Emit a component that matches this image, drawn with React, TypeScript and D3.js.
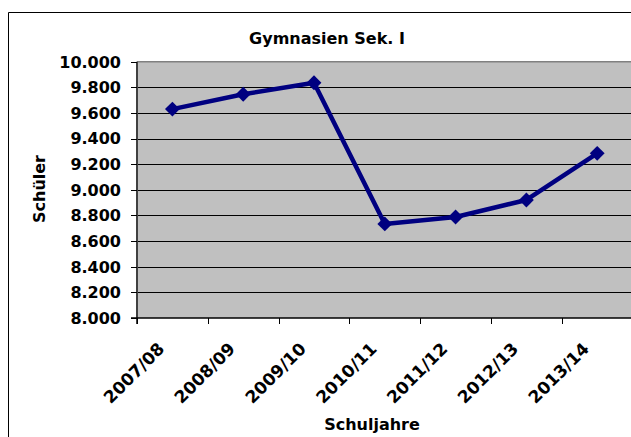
import React, { useRef, useEffect } from "react";
import * as d3 from "d3";

const schuljahre = ["2007/08", "2008/09", "2009/10", "2010/11", "2011/12", "2012/13", "2013/14"];
const schueler = [9630, 9746, 9836, 8734, 8788, 8921, 9285];
const yTicks = [8000, 8200, 8400, 8600, 8800, 9000, 9200, 9400, 9600, 9800, 10000];

const titel = "Gymnasien Sek. I";
const xTitel = "Schuljahre";
const yTitel = "Schüler";

const width = 631;
const height = 437;
const font = "'DejaVu Sans', sans-serif";

const de = d3.formatLocale({ decimal: ",", thousands: ".", grouping: [3], currency: ["", " €"] });
const fmt = de.format(",.0f");

const App = () => {
  const ref = useRef(null);

  useEffect(() => {
    const margin = { top: 61.7, left: 137, bottom: 318, right: 632.6 };

    const svg = d3.select(ref.current);
    svg.selectAll("*").remove();

    const x = d3.scaleBand().domain(schuljahre).range([margin.left, margin.right]).padding(0);
    const y = d3.scaleLinear().domain([8000, 10000]).range([margin.bottom, margin.top]);

    // chart frame: only left and top edges are inside the picture
    svg.append("path")
      .attr("d", `M8.5,${height}V12.5H${width}`)
      .attr("fill", "none").attr("stroke", "black").attr("stroke-width", 1);

    // plot area
    svg.append("rect")
      .attr("x", margin.left).attr("y", margin.top)
      .attr("width", width - margin.left).attr("height", margin.bottom - margin.top)
      .attr("fill", "#c0c0c0");
    svg.append("line")
      .attr("x1", margin.left).attr("x2", width)
      .attr("y1", margin.top).attr("y2", margin.top)
      .attr("stroke", "#808080").attr("stroke-width", 1.5);

    // gridlines
    svg.append("g")
      .selectAll("line")
      .data(yTicks.filter((d) => d > 8000 && d < 10000))
      .join("line")
      .attr("x1", margin.left).attr("x2", width)
      .attr("y1", (d) => Math.round(y(d)) + 0.5).attr("y2", (d) => Math.round(y(d)) + 0.5)
      .attr("stroke", "black").attr("stroke-width", 1);

    // y axis
    const yAxis = svg.append("g");
    yAxis.append("line")
      .attr("x1", margin.left).attr("x2", margin.left)
      .attr("y1", margin.top).attr("y2", margin.bottom + 6)
      .attr("stroke", "#404040").attr("stroke-width", 2);
    yAxis.selectAll("line.tick")
      .data(yTicks)
      .join("line")
      .attr("class", "tick")
      .attr("x1", margin.left - 6).attr("x2", margin.left)
      .attr("y1", (d) => Math.round(y(d)) + 0.5).attr("y2", (d) => Math.round(y(d)) + 0.5)
      .attr("stroke", "black");
    yAxis.selectAll("text")
      .data(yTicks)
      .join("text")
      .attr("x", 121)
      .attr("y", (d) => y(d) + 5.8)
      .attr("text-anchor", "end")
      .attr("font-family", font).attr("font-weight", "bold").attr("font-size", 16)
      .text((d) => fmt(d));

    // x axis
    const xAxis = svg.append("g");
    xAxis.append("line")
      .attr("x1", margin.left - 6).attr("x2", width)
      .attr("y1", margin.bottom).attr("y2", margin.bottom)
      .attr("stroke", "black").attr("stroke-width", 1.5);
    xAxis.selectAll("line.tick")
      .data(schuljahre)
      .join("line")
      .attr("class", "tick")
      .attr("x1", (d) => Math.round(x(d)) + 0.5).attr("x2", (d) => Math.round(x(d)) + 0.5)
      .attr("y1", margin.bottom).attr("y2", margin.bottom + 6)
      .attr("stroke", "black");
    xAxis.selectAll("text")
      .data(schuljahre)
      .join("text")
      .attr("transform", (d) => `translate(${x(d) + x.bandwidth() / 2 - 7},${margin.bottom + 32}) rotate(-45)`)
      .attr("text-anchor", "end")
      .attr("font-family", font).attr("font-weight", "bold").attr("font-size", 17)
      .text((d) => d);

    // line + markers
    const line = d3.line()
      .x((d, i) => x(schuljahre[i]) + x.bandwidth() / 2)
      .y((d) => y(d));

    svg.append("path")
      .datum(schueler)
      .attr("fill", "none")
      .attr("stroke", "#000080")
      .attr("stroke-width", 4.5)
      .attr("stroke-linejoin", "round")
      .attr("d", line);

    svg.append("g")
      .selectAll("path")
      .data(schueler)
      .join("path")
      .attr("transform", (d, i) => `translate(${x(schuljahre[i]) + x.bandwidth() / 2},${y(d)}) rotate(45)`)
      .attr("d", d3.symbol(d3.symbolSquare, 110))
      .attr("fill", "#000080");

    // titles
    svg.append("text")
      .attr("x", 327).attr("y", 44)
      .attr("text-anchor", "middle")
      .attr("font-family", font).attr("font-weight", "bold").attr("font-size", 16)
      .text(titel);

    svg.append("text")
      .attr("x", 372).attr("y", 430)
      .attr("text-anchor", "middle")
      .attr("font-family", font).attr("font-weight", "bold").attr("font-size", 16)
      .text(xTitel);

    svg.append("text")
      .attr("transform", `translate(45,189) rotate(-90)`)
      .attr("text-anchor", "middle")
      .attr("font-family", font).attr("font-weight", "bold").attr("font-size", 16)
      .text(yTitel);
  }, []);

  return (
    <svg
      ref={ref}
      width={width}
      height={height}
      style={{ position: "absolute", left: 0, top: 0, background: "white" }}
    ></svg>
  );
};

export default App;
